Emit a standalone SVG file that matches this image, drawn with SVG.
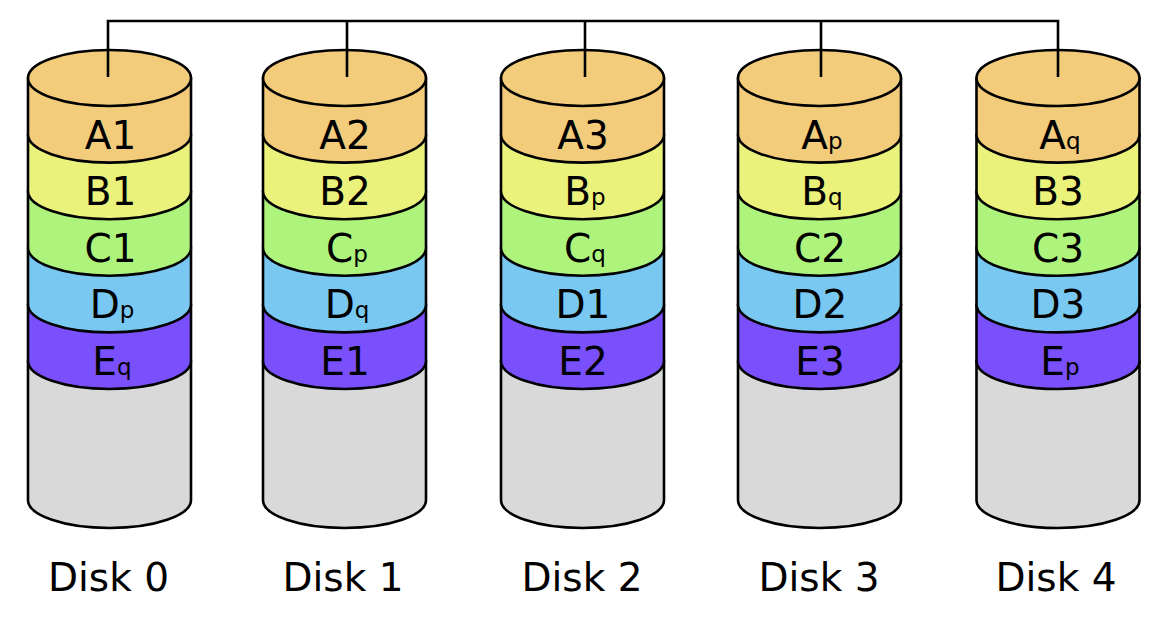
<svg xmlns="http://www.w3.org/2000/svg" width="1160" height="622" viewBox="0 0 1160 622">
<style>
.s{stroke:#000;stroke-width:2.6;stroke-linejoin:round}
.a{fill:#f2cc7b}.b{fill:#ebf27b}.c{fill:#aef37b}.d{fill:#78c8f1}.e{fill:#7a50fc}.g{fill:#d9d9d9}
.t{font-family:"DejaVu Sans",sans-serif;font-size:39px;text-anchor:middle;fill:#000}
.sub{font-size:23px}
.lbl{font-family:"DejaVu Sans",sans-serif;font-size:39px;text-anchor:middle;fill:#000}
</style>
<defs>
<g id="cyl">
<path class="s g" d="M-81.5,361 L-81.5,500 A81.5,28 0 0 0 81.5,500 L81.5,361 Z"/>
<path class="s e" d="M-81.5,304.4 L-81.5,361 A81.5,28 0 0 0 81.5,361 L81.5,304.4 Z"/>
<path class="s d" d="M-81.5,247.8 L-81.5,304.4 A81.5,28 0 0 0 81.5,304.4 L81.5,247.8 Z"/>
<path class="s c" d="M-81.5,191.2 L-81.5,247.8 A81.5,28 0 0 0 81.5,247.8 L81.5,191.2 Z"/>
<path class="s b" d="M-81.5,134.6 L-81.5,191.2 A81.5,28 0 0 0 81.5,191.2 L81.5,134.6 Z"/>
<path class="s a" d="M-81.5,78 L-81.5,134.6 A81.5,28 0 0 0 81.5,134.6 L81.5,78 Z"/>
<ellipse class="s a" cx="0" cy="78" rx="81.5" ry="28"/>
</g>
</defs>
<g id="disk0">
<use href="#cyl" x="109.5"/>
<g class="t">
<text x="110.5" y="148.5">A1</text>
<text x="110.5" y="205">B1</text>
<text x="110.5" y="261.5">C1</text>
<text x="112" y="318">D<tspan class="sub">p</tspan></text>
<text x="112" y="374.5">E<tspan class="sub">q</tspan></text>
</g>
<text class="lbl" x="108.5" y="591">Disk 0</text>
</g>
<g id="disk1">
<use href="#cyl" x="344.5"/>
<g class="t">
<text x="345" y="148.5">A2</text>
<text x="345" y="205">B2</text>
<text x="347" y="261.5">C<tspan class="sub">p</tspan></text>
<text x="347" y="318">D<tspan class="sub">q</tspan></text>
<text x="345" y="374.5">E1</text>
</g>
<text class="lbl" x="343" y="591">Disk 1</text>
</g>
<g id="disk2">
<use href="#cyl" x="582.5"/>
<g class="t">
<text x="583" y="148.5">A3</text>
<text x="585" y="205">B<tspan class="sub">p</tspan></text>
<text x="585" y="261.5">C<tspan class="sub">q</tspan></text>
<text x="583" y="318">D1</text>
<text x="583" y="374.5">E2</text>
</g>
<text class="lbl" x="582" y="591">Disk 2</text>
</g>
<g id="disk3">
<use href="#cyl" x="819.5"/>
<g class="t">
<text x="822" y="148.5">A<tspan class="sub">p</tspan></text>
<text x="822" y="205">B<tspan class="sub">q</tspan></text>
<text x="820" y="261.5">C2</text>
<text x="820" y="318">D2</text>
<text x="820" y="374.5">E3</text>
</g>
<text class="lbl" x="819" y="591">Disk 3</text>
</g>
<g id="disk4">
<use href="#cyl" x="1058"/>
<g class="t">
<text x="1060" y="148.5">A<tspan class="sub">q</tspan></text>
<text x="1058" y="205">B3</text>
<text x="1058" y="261.5">C3</text>
<text x="1058" y="318">D3</text>
<text x="1060" y="374.5">E<tspan class="sub">p</tspan></text>
</g>
<text class="lbl" x="1056" y="591">Disk 4</text>
</g>
<g id="connectors" fill="none" stroke="#000" stroke-width="2.6">
<path d="M108,77 V21 H1058 V77 M347,21 V77 M585,21 V77 M821,21 V77"/>
</g>
</svg>
